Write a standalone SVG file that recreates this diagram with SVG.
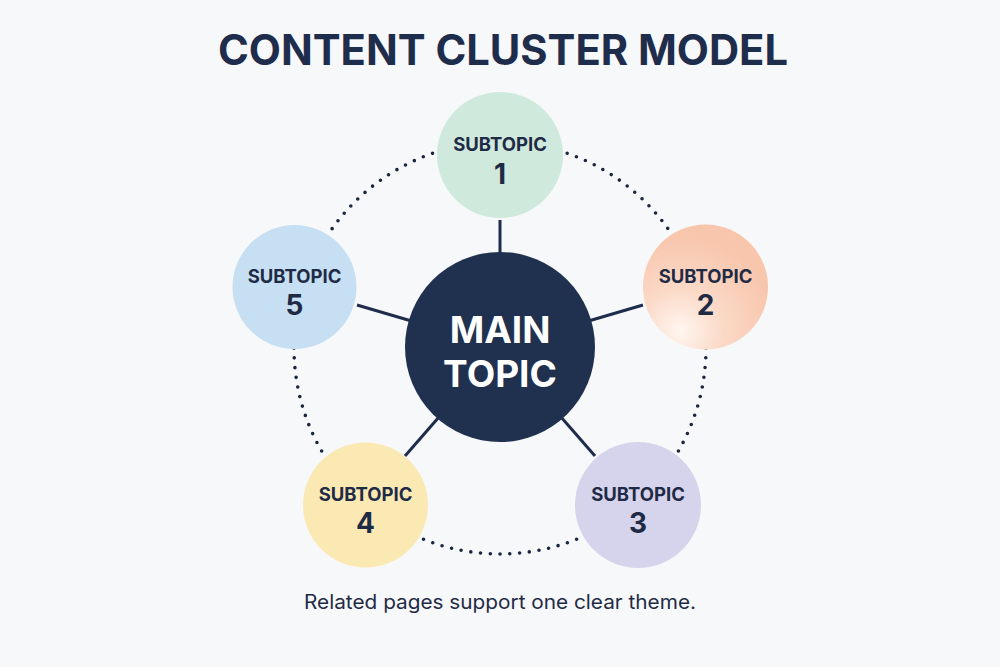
<svg xmlns="http://www.w3.org/2000/svg" width="1000" height="667" viewBox="0 0 1000 667">
  <defs>
    <radialGradient id="g2" cx="0.3" cy="0.85" r="0.75">
      <stop offset="0" stop-color="#fff6f0"/>
      <stop offset="0.45" stop-color="#fbd9c7"/>
      <stop offset="1" stop-color="#f8c6ad"/>
    </radialGradient>
  </defs>
  <style>
    .title { font-family: Inter, "Liberation Sans", sans-serif; font-weight: 700; font-size: 42px; fill: #1f2d4d; }
    .sub { font-family: Inter, "Liberation Sans", sans-serif; font-weight: 700; font-size: 18.5px; fill: #1f2b45; }
    .num { font-family: Inter, "Liberation Sans", sans-serif; font-weight: 700; font-size: 28px; fill: #1f2b45; }
    .main { font-family: Inter, "Liberation Sans", sans-serif; font-weight: 700; font-size: 37px; fill: #ffffff; }
    .foot { font-family: Inter, "Liberation Sans", sans-serif; font-weight: 400; font-size: 19.5px; fill: #1f2b45; }
    .ring { fill: none; stroke: #1a2540; stroke-width: 3.6; stroke-dasharray: 0 9.8; stroke-linecap: round; }
    .spoke { stroke: #1f2d4d; stroke-width: 3; stroke-linecap: butt; }
  </style>
  <rect width="1000" height="667" fill="#f7f8f9"/>
  <text class="title" x="503" y="65" text-anchor="middle" textLength="570" lengthAdjust="spacingAndGlyphs">CONTENT CLUSTER MODEL</text>

  <g id="connectors">
    <circle class="ring" cx="500" cy="348" r="206"/>
    <line class="spoke" x1="500" y1="347" x2="500" y2="220"/>
    <line class="spoke" x1="500" y1="347" x2="643" y2="305"/>
    <line class="spoke" x1="500" y1="347" x2="595" y2="456"/>
    <line class="spoke" x1="500" y1="347" x2="405" y2="456"/>
    <line class="spoke" x1="500" y1="347" x2="357" y2="305"/>
  </g>

  <g id="main-topic">
    <circle cx="500" cy="347" r="95" fill="#203150"/>
    <text class="main" x="500" y="343" text-anchor="middle">MAIN</text>
    <text class="main" x="500" y="387" text-anchor="middle">TOPIC</text>
  </g>

  <g id="subtopic-1">
    <circle cx="500" cy="155" r="63" fill="#cfe9dd"/>
    <text class="sub" x="500" y="151" text-anchor="middle">SUBTOPIC</text>
    <text class="num" x="500" y="184" text-anchor="middle">1</text>
  </g>

  <g id="subtopic-2">
    <circle cx="705.5" cy="287" r="62.5" fill="url(#g2)"/>
    <text class="sub" x="705.5" y="283" text-anchor="middle">SUBTOPIC</text>
    <text class="num" x="705.5" y="315" text-anchor="middle">2</text>
  </g>

  <g id="subtopic-3">
    <circle cx="638" cy="505" r="63" fill="#d6d3ec"/>
    <text class="sub" x="638" y="501" text-anchor="middle">SUBTOPIC</text>
    <text class="num" x="638" y="533" text-anchor="middle">3</text>
  </g>

  <g id="subtopic-4">
    <circle cx="365.5" cy="505" r="62.5" fill="#fbe9b4"/>
    <text class="sub" x="365.5" y="501" text-anchor="middle">SUBTOPIC</text>
    <text class="num" x="365.5" y="533" text-anchor="middle">4</text>
  </g>

  <g id="subtopic-5">
    <circle cx="294.5" cy="287" r="62" fill="#c6dff3"/>
    <text class="sub" x="294.5" y="283" text-anchor="middle">SUBTOPIC</text>
    <text class="num" x="294.5" y="315" text-anchor="middle">5</text>
  </g>

  <text class="foot" x="500" y="609" text-anchor="middle" textLength="392" lengthAdjust="spacingAndGlyphs">Related pages support one clear theme.</text>
</svg>
